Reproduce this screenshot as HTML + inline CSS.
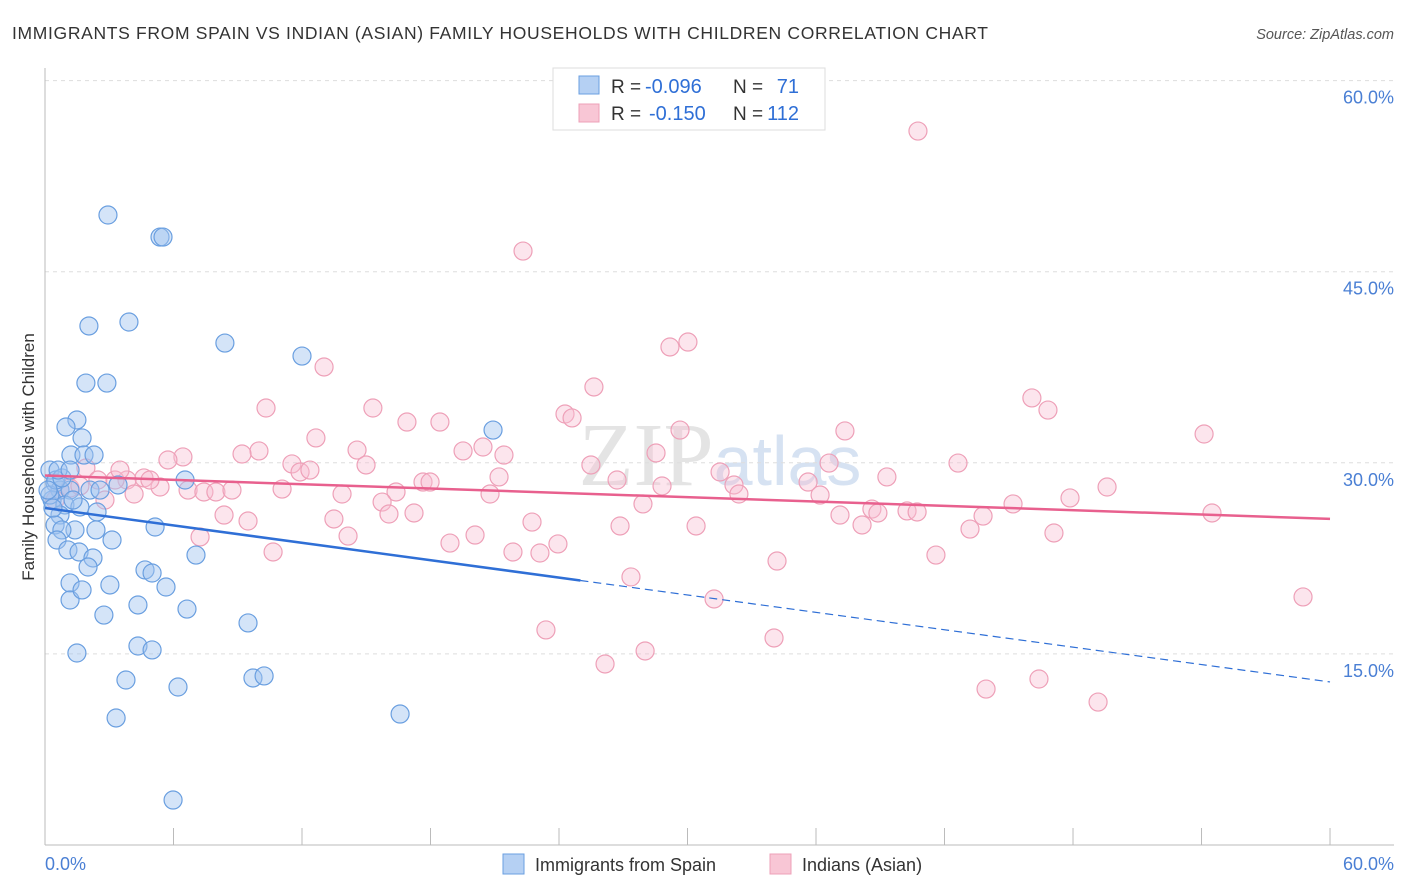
<!DOCTYPE html>
<html><head><meta charset="utf-8"><style>
body{margin:0;background:#fff;font-family:"Liberation Sans",sans-serif;}
svg{display:block}
</style></head><body>
<svg id="c" width="1406" height="892">
<text x="12" y="39" font-size="17.5" fill="#333" textLength="976">IMMIGRANTS FROM SPAIN VS INDIAN (ASIAN) FAMILY HOUSEHOLDS WITH CHILDREN CORRELATION CHART</text>
<text x="1394" y="39" font-size="14.5" fill="#555" text-anchor="end" font-style="italic">Source: ZipAtlas.com</text>
<text x="720" y="485" font-size="90" fill="#e4e4e4" text-anchor="middle" font-family="Liberation Serif,serif">ZIP<tspan font-family="Liberation Sans,sans-serif" font-size="70" fill="#d6e2f2">atlas</tspan></text>
<g id="grid"></g><g id="pts"></g><g id="lines"></g>
<text transform="translate(34,457) rotate(-90)" font-size="17" fill="#333" text-anchor="middle">Family Households with Children</text>
<text x="45" y="870" font-size="18" fill="#4a7fd4">0.0%</text>
<text x="1394" y="870" font-size="18" fill="#4a7fd4" text-anchor="end">60.0%</text>
<g>
<rect x="553" y="68" width="272" height="62" fill="#fff" stroke="#ddd"/>
<rect x="579" y="76" width="20" height="18" fill="#b5d0f3" stroke="#6a9fe0"/>
<rect x="579" y="104" width="20" height="18" fill="#f8c6d5" stroke="#eea0b8"/>
<text x="611" y="93" font-size="19" fill="#333">R =</text>
<text x="645" y="93" font-size="20" fill="#2f6fd6">-0.096</text>
<text x="733" y="93" font-size="19" fill="#333">N =</text>
<text x="799" y="93" font-size="20" fill="#2f6fd6" text-anchor="end">71</text>
<text x="611" y="120" font-size="19" fill="#333">R =</text>
<text x="649" y="120" font-size="20" fill="#2f6fd6">-0.150</text>
<text x="733" y="120" font-size="19" fill="#333">N =</text>
<text x="799" y="120" font-size="20" fill="#2f6fd6" text-anchor="end">112</text>
</g>
<g>
<rect x="503" y="854" width="21" height="20" fill="#b5d0f3" stroke="#6a9fe0"/>
<text x="535" y="871" font-size="18" fill="#333">Immigrants from Spain</text>
<rect x="770" y="854" width="21" height="20" fill="#f8c6d5" stroke="#eea0b8"/>
<text x="802" y="871" font-size="18" fill="#333">Indians (Asian)</text>
</g>
</svg>
<script>
const yTicks=[15,30,45,60];
const xTicks=[0,6,12,18,24,30,36,42,48,54,60];
const bluePx=[[108,215],[160,237],[163,237],[129,322],[89,326],[225,343],[302,356],[86,383],[107,383],[77,420],[66,427],[82,438],[71,455],[84,455],[94,455],[493,430],[185,480],[55,483],[60,490],[70,490],[90,490],[118,485],[52,500],[65,505],[80,507],[97,512],[60,515],[55,525],[75,530],[62,530],[155,527],[112,540],[57,540],[68,550],[79,552],[93,558],[196,555],[145,570],[152,573],[88,567],[70,583],[110,585],[166,587],[70,600],[82,590],[138,605],[104,615],[187,609],[248,623],[138,646],[152,650],[77,653],[126,680],[178,687],[253,678],[264,676],[116,718],[400,714],[173,800],[50,495],[50,470],[56,480],[62,478],[53,508],[100,490],[48,490],[58,470],[70,470],[96,530],[73,500]];
const pinkPx=[[918,131],[523,251],[688,342],[670,347],[324,367],[594,387],[266,408],[373,408],[565,414],[572,418],[407,422],[440,422],[316,438],[680,430],[845,431],[1204,434],[1032,398],[1048,410],[259,451],[242,454],[357,450],[463,451],[483,447],[504,455],[656,453],[183,457],[168,460],[366,465],[292,464],[300,472],[310,470],[591,465],[720,472],[958,463],[86,468],[144,478],[127,480],[160,487],[150,480],[98,480],[115,480],[188,490],[204,492],[216,492],[232,490],[282,489],[342,494],[396,492],[423,482],[430,482],[490,494],[499,477],[617,480],[662,486],[734,485],[739,494],[808,482],[820,495],[829,463],[887,477],[1107,487],[1070,498],[134,494],[105,500],[60,490],[70,488],[80,486],[55,500],[224,515],[248,521],[382,502],[389,514],[414,513],[334,519],[532,522],[643,504],[872,509],[878,513],[840,515],[907,511],[917,512],[1013,504],[983,516],[1212,513],[620,526],[696,526],[862,525],[970,529],[1054,533],[200,537],[348,536],[273,552],[450,543],[475,535],[513,552],[540,553],[558,544],[936,555],[777,561],[631,577],[714,599],[1303,597],[546,630],[774,638],[605,664],[645,651],[1039,679],[986,689],[1098,702],[120,470]];
const blueX=bluePx.map(p=>+((p[0]-45)/21.417).toFixed(2));
const blueY=bluePx.map(p=>+((845-p[1])/12.74).toFixed(2));
const pinkX=pinkPx.map(p=>+((p[0]-45)/21.417).toFixed(2));
const pinkY=pinkPx.map(p=>+((845-p[1])/12.74).toFixed(2));
const blueTrend=[26.45,12.8];
const pinkTrend=[29.0,25.6];
const blueSolidEnd=25;

const NS="http://www.w3.org/2000/svg";
const sx=v=>45+v*21.417, sy=v=>845-v*12.74;
function mk(t,a,p){const e=document.createElementNS(NS,t);for(const k in a)e.setAttribute(k,a[k]);p.appendChild(e);return e;}
const grid=document.getElementById('grid'),pts=document.getElementById('pts'),lines=document.getElementById('lines'),svg=document.getElementById('c');
yTicks.forEach(t=>{
 const l=mk('line',{x1:45,x2:1394,y1:sy(t),y2:sy(t),stroke:'#ddd','stroke-dasharray':'4,4'},grid);
 
 
 const tx=mk('text',{x:1394,y:sy(t)+23,'font-size':18,fill:'#4a7fd4','text-anchor':'end'},svg);
 tx.textContent=t.toFixed(1)+'%';
 
 
});
mk('line',{x1:45,x2:45,y1:68,y2:845,stroke:'#bbb'},grid);
mk('line',{x1:45,x2:1394,y1:845,y2:845,stroke:'#bbb'},grid);
xTicks.forEach(t=>{
 const l=mk('line',{x1:sx(t),x2:sx(t),y1:828,y2:845,stroke:'#bbb'},grid);
 
 
});
function dots(X,Y,fill,stroke,name){X.forEach((x,i)=>{
 const c=mk('circle',{cx:sx(x),cy:sy(Y[i]),r:9,fill:fill,stroke:stroke,'stroke-width':1.2},pts);
 
 
});}
dots(pinkX,pinkY,'rgba(248,190,210,0.4)','#eea0b8','indian-point');
dots(blueX,blueY,'rgba(160,195,240,0.45)','#6a9fe0','spain-point');
const bAt=x=>blueTrend[0]+(blueTrend[1]-blueTrend[0])*x/60;
let l=mk('line',{x1:sx(0),y1:sy(pinkTrend[0]),x2:sx(60),y2:sy(pinkTrend[1]),stroke:'#e8608e','stroke-width':2.5},lines);


l=mk('line',{x1:sx(0),y1:sy(bAt(0)),x2:sx(blueSolidEnd),y2:sy(bAt(blueSolidEnd)),stroke:'#2f6fd6','stroke-width':2.5},lines);


l=mk('line',{x1:sx(blueSolidEnd),y1:sy(bAt(blueSolidEnd)),x2:sx(60),y2:sy(bAt(60)),stroke:'#2f6fd6','stroke-width':1.2,'stroke-dasharray':'8,5'},lines);


</script>
</body></html>
